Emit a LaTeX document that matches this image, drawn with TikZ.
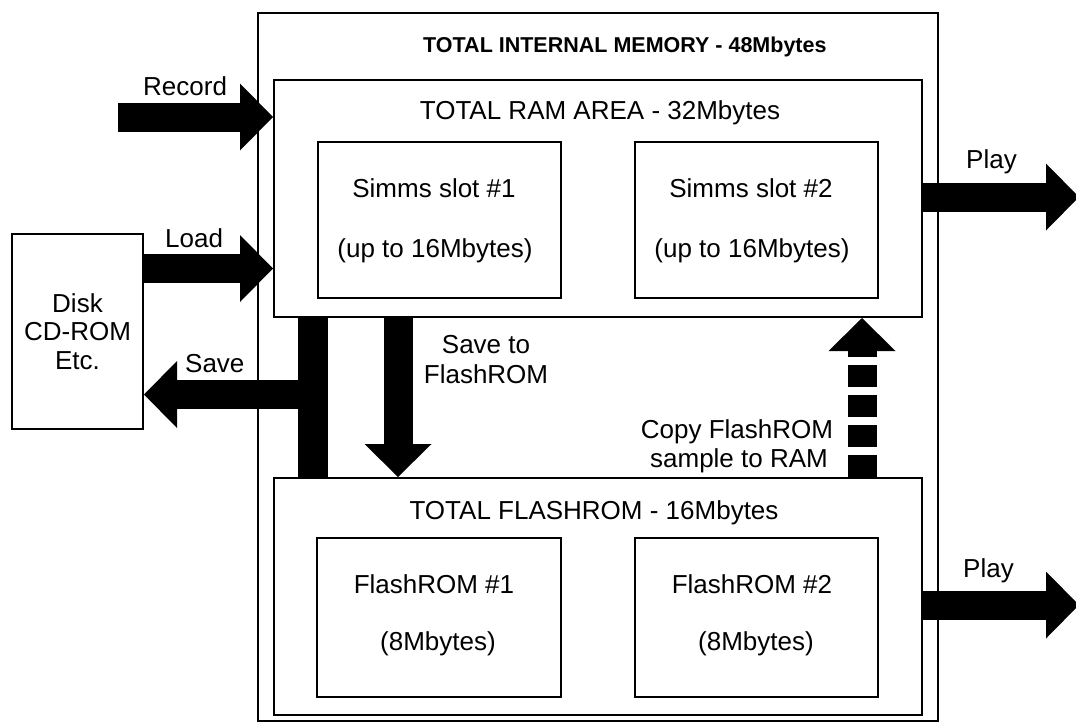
\documentclass[tikz,border=0pt]{standalone}
\usepackage{fontspec}
\setmainfont{Liberation Sans}
\usetikzlibrary{arrows.meta}
\begin{document}
\begin{tikzpicture}[x=1pt,y=-1pt,
  box/.style={draw,line width=2pt,inner sep=0pt,fill=white},
  txt/.style={inner sep=0pt,font=\fontsize{26}{29}\selectfont},
  ttl/.style={inner sep=0pt,font=\fontsize{21.5}{25}\selectfont\bfseries},
  blk/.style={line width=29pt,-{Triangle[length=33pt,width=67pt,line width=0pt]}},
  blkdash/.style={blk,dash pattern=on 22pt off 8pt},
  barline/.style={line width=30pt}]
\useasboundingbox (0,0) rectangle (1076,726);
% boxes
\node[box,minimum width=680pt,minimum height=708pt] (outer) at (598,367) {};
\node[box,minimum width=648pt,minimum height=237pt] (ram) at (598,198.5) {};
\node[box,minimum width=243pt,minimum height=156pt] (s1) at (439.5,220) {};
\node[box,minimum width=243pt,minimum height=156pt] (s2) at (756.5,220) {};
\node[box,minimum width=648pt,minimum height=237pt] (flash) at (598,596.5) {};
\node[box,minimum width=244pt,minimum height=159pt] (f1) at (439,617.5) {};
\node[box,minimum width=243pt,minimum height=159pt] (f2) at (756.5,617.5) {};
\node[box,minimum width=131pt,minimum height=195pt,align=center,
      font=\fontsize{26}{28.5}\selectfont] (disk) at (77.5,331.5) {Disk\\CD-ROM\\Etc.};
% titles and texts
\node[ttl,anchor=base west] (tmem) at (423,52) {TOTAL INTERNAL MEMORY - 48Mbytes};
\node[txt,anchor=base] (tram) at (600,119) {TOTAL RAM AREA - 32Mbytes};
\node[txt,anchor=base] (tfl) at (594,519) {TOTAL FLASHROM - 16Mbytes};
\node[txt,anchor=base] (s1a) at (434,197) {Simms slot \#1};
\node[txt,anchor=base] (s1b) at (435,257) {(up to 16Mbytes)};
\node[txt,anchor=base] (s2a) at (751,197) {Simms slot \#2};
\node[txt,anchor=base] (s2b) at (752,257) {(up to 16Mbytes)};
\node[txt,anchor=base] (f1a) at (434,593) {FlashROM \#1};
\node[txt,anchor=base] (f1b) at (438,650) {(8Mbytes)};
\node[txt,anchor=base] (f2a) at (752,593) {FlashROM \#2};
\node[txt,anchor=base] (f2b) at (756,650) {(8Mbytes)};
% arrow coordinates
\coordinate (recS) at (118,117);
\coordinate (loadS) at (143,268.5);
\coordinate (saveS) at (313,394.5);
\coordinate (barX) at (313,0);
\coordinate (stfX) at (398,0);
\coordinate (cpX) at (862,0);
\coordinate (play1) at (1079,197);
\coordinate (play2) at (1079,605);
% arrows
\draw[blk] (recS) -- (recS -| ram.west);
\draw[blk] (loadS) -- (loadS -| ram.west);
\draw[barline] (barX |- ram.south) -- (barX |- flash.north);
\draw[blk] (saveS) -- (saveS -| disk.east);
\draw[blk] (stfX |- ram.south) -- (stfX |- flash.north);
\draw[blkdash] (cpX |- flash.north) -- (cpX |- ram.south);
\draw[blk] (ram.east |- play1) -- (play1);
\draw[blk] (flash.east |- play2) -- (play2);
% arrow labels
\node[txt,anchor=base west] (lrec) at (143,95) {Record};
\node[txt,anchor=base west] (lload) at (165,247) {Load};
\node[txt,anchor=base west] (lsave) at (185,372) {Save};
\node[txt,anchor=base] (lstf1) at (486,353) {Save to};
\node[txt,anchor=base] (lstf2) at (486,383) {FlashROM};
\node[txt,anchor=base] (lcp1) at (737,438) {Copy FlashROM};
\node[txt,anchor=base] (lcp2) at (739,467) {sample to RAM};
\node[txt,anchor=base west] (lp1) at (966,168) {Play};
\node[txt,anchor=base west] (lp2) at (963,577) {Play};
\end{tikzpicture}
\end{document}
